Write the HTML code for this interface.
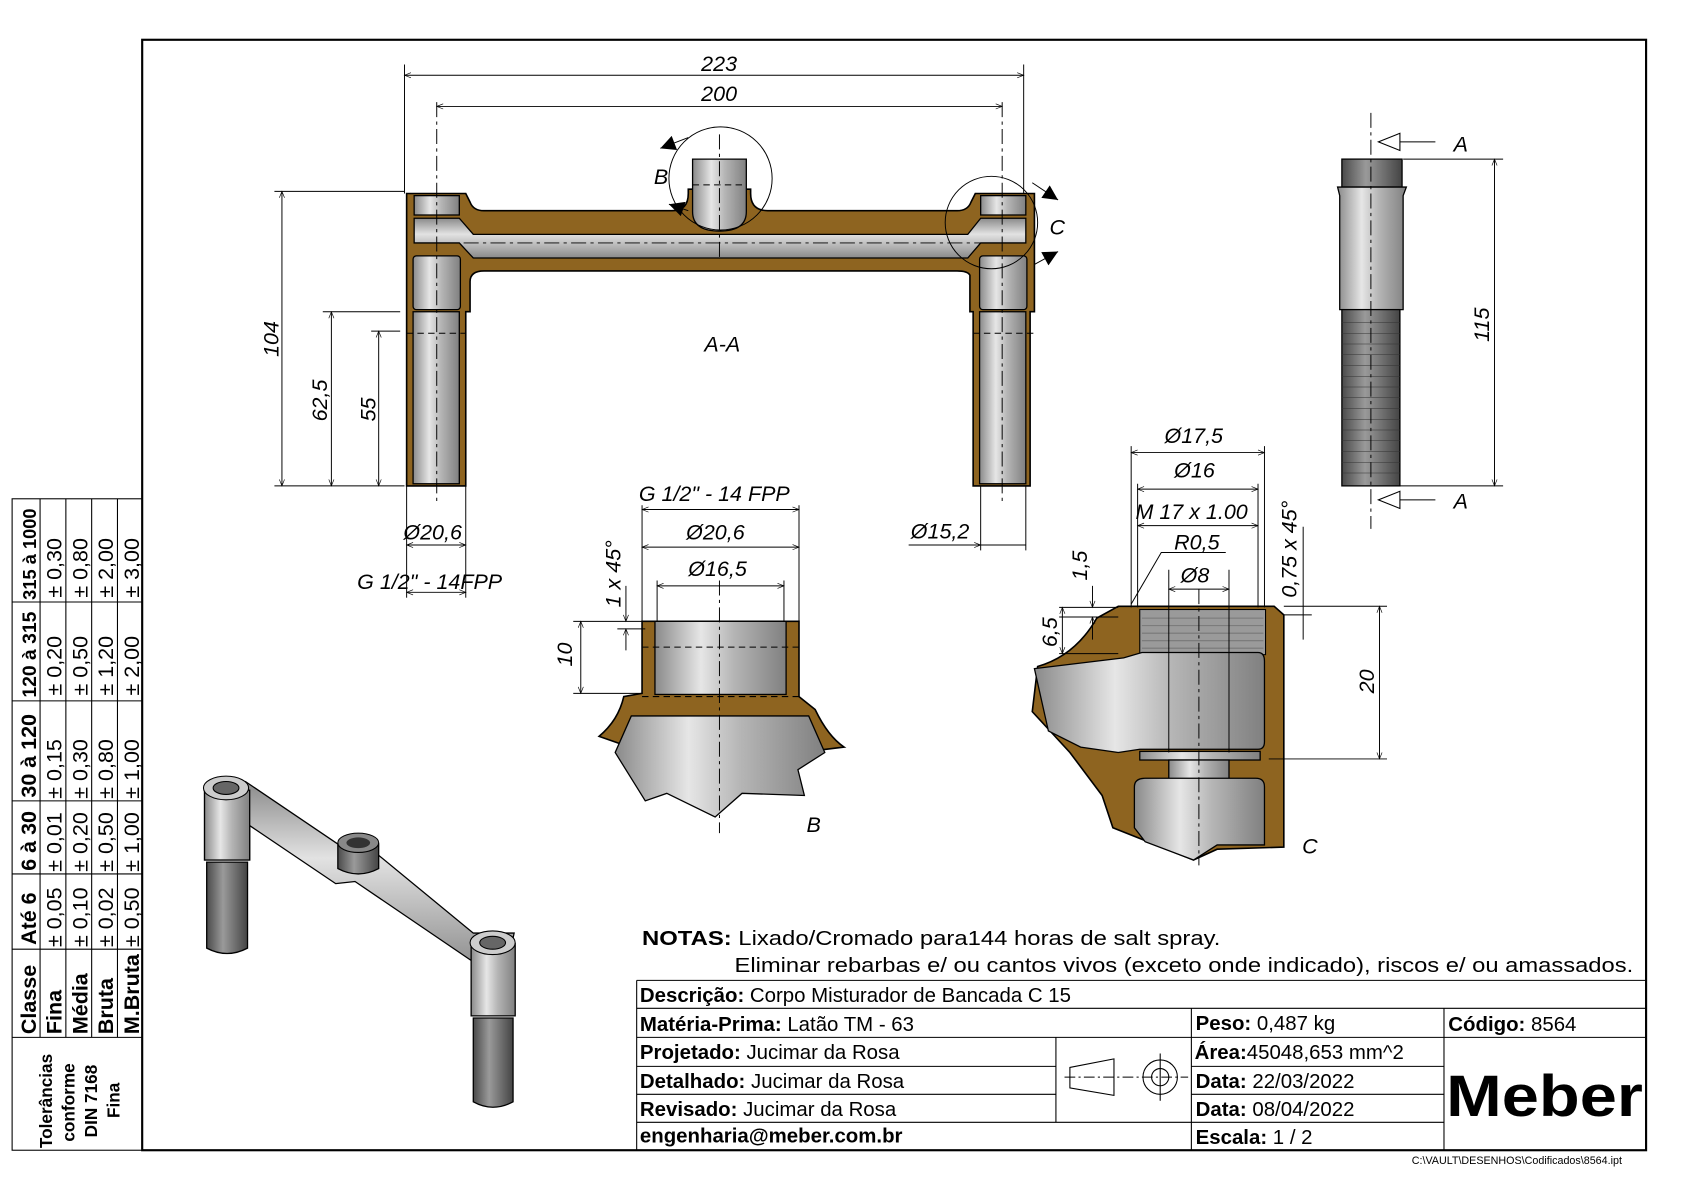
<!DOCTYPE html>
<html><head><meta charset="utf-8"><style>
html,body{margin:0;padding:0;background:#fff}
svg{display:block}
text{font-family:"Liberation Sans",sans-serif}
.d{stroke:#000;stroke-width:0.9;fill:none}
.c{stroke:#000;stroke-width:0.9;fill:none;stroke-dasharray:14 4 3 4}
.h{stroke:#000;stroke-width:1;fill:none;stroke-dasharray:6 4}
.br{fill:#8e6420;stroke:#000;stroke-width:1.5}
.gr{fill:url(#g);stroke:#000;stroke-width:1.2}
.gv{fill:url(#gv);stroke:#000;stroke-width:1.2}
.dk{fill:url(#gd);stroke:#000;stroke-width:1.2}
.i{font-style:italic;font-size:20px}
.t{font-size:19px}
.b{font-size:19px;font-weight:bold}
</style></head><body>
<svg width="1684" height="1190" viewBox="0 0 1566 1107" xmlns="http://www.w3.org/2000/svg">
<defs>
<linearGradient id="g" x1="0" x2="1" y1="0" y2="0"><stop offset="0" stop-color="#8a8a8a"/><stop offset="0.35" stop-color="#e6e6e6"/><stop offset="0.6" stop-color="#b5b5b5"/><stop offset="1" stop-color="#808080"/></linearGradient>
<linearGradient id="gv" x1="0" x2="0" y1="0" y2="1"><stop offset="0" stop-color="#8a8a8a"/><stop offset="0.4" stop-color="#e2e2e2"/><stop offset="1" stop-color="#8a8a8a"/></linearGradient>
<linearGradient id="gd" x1="0" x2="1" y1="0" y2="0"><stop offset="0" stop-color="#4a4a4a"/><stop offset="0.4" stop-color="#9a9a9a"/><stop offset="1" stop-color="#444"/></linearGradient>
<marker id="a" viewBox="0 0 10 10" refX="10" refY="5" markerWidth="12" markerHeight="6" orient="auto-start-reverse" markerUnits="userSpaceOnUse"><path d="M0,1 L10,5 L0,9" fill="none" stroke="#000"/></marker>
<marker id="A" viewBox="0 0 10 10" refX="10" refY="5" markerWidth="18" markerHeight="14" orient="auto" markerUnits="userSpaceOnUse"><path d="M0,0 L10,5 L0,10z" fill="#000"/></marker>
</defs>

<rect x="132" y="37" width="1399" height="1033" fill="none" stroke="#000" stroke-width="2"/>

<!-- tolerance table -->
<g stroke="#000" stroke-width="1" fill="none">
<rect x="11" y="464" width="121" height="606"/>
<line x1="37" y1="464" x2="37" y2="965"/><line x1="61" y1="464" x2="61" y2="965"/><line x1="85" y1="464" x2="85" y2="965"/><line x1="109" y1="464" x2="109" y2="965"/>
<line x1="11" y1="560" x2="132" y2="560"/><line x1="11" y1="652" x2="132" y2="652"/><line x1="11" y1="745" x2="132" y2="745"/><line x1="11" y1="813" x2="132" y2="813"/><line x1="11" y1="883" x2="132" y2="883"/><line x1="11" y1="965" x2="132" y2="965"/>
</g>
<g font-size="20">
<text transform="translate(33,962) rotate(-90)" font-weight="bold">Classe</text>
<text transform="translate(33,879) rotate(-90)" font-weight="bold">Até 6</text>
<text transform="translate(33,810) rotate(-90)" font-weight="bold">6 à 30</text>
<text transform="translate(33,742) rotate(-90)" font-weight="bold">30 à 120</text>
<text transform="translate(33,649) rotate(-90)" font-weight="bold" font-size="18">120 à 315</text>
<text transform="translate(33,558) rotate(-90)" font-weight="bold" font-size="17">315 à 1000</text>
<text transform="translate(57,962) rotate(-90)" font-weight="bold">Fina</text>
<text transform="translate(81,962) rotate(-90)" font-weight="bold">Média</text>
<text transform="translate(105,962) rotate(-90)" font-weight="bold">Bruta</text>
<text transform="translate(129,962) rotate(-90)" font-weight="bold">M.Bruta</text>
<text transform="translate(57,881) rotate(-90)">± 0,05</text><text transform="translate(57,811) rotate(-90)">± 0,01</text><text transform="translate(57,743) rotate(-90)">± 0,15</text><text transform="translate(57,647) rotate(-90)">± 0,20</text><text transform="translate(57,556) rotate(-90)">± 0,30</text>
<text transform="translate(81,881) rotate(-90)">± 0,10</text><text transform="translate(81,811) rotate(-90)">± 0,20</text><text transform="translate(81,743) rotate(-90)">± 0,30</text><text transform="translate(81,647) rotate(-90)">± 0,50</text><text transform="translate(81,556) rotate(-90)">± 0,80</text>
<text transform="translate(105,881) rotate(-90)">± 0,02</text><text transform="translate(105,811) rotate(-90)">± 0,50</text><text transform="translate(105,743) rotate(-90)">± 0,80</text><text transform="translate(105,647) rotate(-90)">± 1,20</text><text transform="translate(105,556) rotate(-90)">± 2,00</text>
<text transform="translate(129,881) rotate(-90)">± 0,50</text><text transform="translate(129,811) rotate(-90)">± 1,00</text><text transform="translate(129,743) rotate(-90)">± 1,00</text><text transform="translate(129,647) rotate(-90)">± 2,00</text><text transform="translate(129,556) rotate(-90)">± 3,00</text>
<g font-weight="bold" font-size="16">
<text transform="translate(48,1068) rotate(-90)">Tolerâncias</text>
<text transform="translate(69,1062) rotate(-90)">conforme</text>
<text transform="translate(90,1058) rotate(-90)">DIN 7168</text>
<text transform="translate(111,1040) rotate(-90)">Fina</text>
</g>
</g>

<!-- title block -->
<g stroke="#000" stroke-width="1" fill="none">
<line x1="592" y1="912" x2="1531" y2="912"/>
<line x1="592" y1="938" x2="1531" y2="938"/>
<line x1="592" y1="965" x2="1531" y2="965"/>
<line x1="592" y1="992" x2="982" y2="992"/><line x1="1108" y1="992" x2="1343" y2="992"/>
<line x1="592" y1="1018" x2="982" y2="1018"/><line x1="1108" y1="1018" x2="1343" y2="1018"/>
<line x1="592" y1="1044" x2="1343" y2="1044"/>
<line x1="592" y1="912" x2="592" y2="1070"/>
<line x1="982" y1="965" x2="982" y2="1044"/>
<line x1="1108" y1="938" x2="1108" y2="1070"/>
<line x1="1343" y1="938" x2="1343" y2="1070"/>
<path d="M995,993 L1036,985 L1036,1019 L995,1012Z"/>
<line x1="990" y1="1002" x2="1105" y2="1002" stroke-dasharray="10 3 2 3"/>
<circle cx="1079" cy="1002" r="16"/><circle cx="1079" cy="1002" r="8"/>
<line x1="1079" y1="980" x2="1079" y2="1024"/>
</g>
<text x="597" y="879" class="t" textLength="538" lengthAdjust="spacingAndGlyphs"><tspan font-weight="bold">NOTAS:</tspan> Lixado/Cromado para144 horas de salt spray.</text>
<text x="683" y="904" class="t" textLength="836" lengthAdjust="spacingAndGlyphs">Eliminar rebarbas e/ ou cantos vivos (exceto onde indicado), riscos e/ ou amassados.</text>
<text x="595" y="932" class="t"><tspan font-weight="bold">Descrição:</tspan> Corpo Misturador de Bancada C 15</text>
<text x="595" y="959" class="t"><tspan font-weight="bold">Matéria-Prima:</tspan> Latão TM - 63</text>
<text x="1112" y="958" class="t"><tspan font-weight="bold">Peso:</tspan> 0,487 kg</text>
<text x="1347" y="959" class="t"><tspan font-weight="bold">Código:</tspan> 8564</text>
<text x="595" y="985" class="t"><tspan font-weight="bold">Projetado:</tspan> Jucimar da Rosa</text>
<text x="595" y="1012" class="t"><tspan font-weight="bold">Detalhado:</tspan> Jucimar da Rosa</text>
<text x="595" y="1038" class="t"><tspan font-weight="bold">Revisado:</tspan> Jucimar da Rosa</text>
<text x="595" y="1063" class="b">engenharia@meber.com.br</text>
<text x="1111" y="985" class="t"><tspan font-weight="bold">Área:</tspan>45048,653 mm^2</text>
<text x="1112" y="1012" class="t"><tspan font-weight="bold">Data:</tspan> 22/03/2022</text>
<text x="1112" y="1038" class="t"><tspan font-weight="bold">Data:</tspan> 08/04/2022</text>
<text x="1112" y="1064" class="t"><tspan font-weight="bold">Escala:</tspan> 1 / 2</text>
<text x="1345" y="1038" font-size="54" font-weight="bold" textLength="183" lengthAdjust="spacingAndGlyphs">Meber</text>
<text x="1313" y="1083" font-size="10">C:\VAULT\DESENHOS\Codificados\8564.ipt</text>

<!-- FRONT VIEW A-A -->
<path class="br" d="M378,180 L433,180 L437,188 Q440,196 450,196 L625,196 Q640,196 640,180 L640,176 L698,176 L698,180 Q698,196 714,196 L890,196 Q900,196 903,188 L907,180 L962,180 L962,290 L958,290 L958,452 L905,452 L905,290 L902,290 L902,256 Q900,252 890,252 L450,252 Q437,252 437,262 L437,290 L433,290 L433,452 L378,452 L378,290Z"/>
<rect class="gr" x="385" y="182" width="42" height="18" fill="#888"/>
<rect class="gr" x="912" y="182" width="42" height="18"/>
<path class="gv" d="M385,203 L427,203 L440,218 L900,218 L912,203 L954,203 L954,226 L912,226 L900,240 L440,240 L427,226 L385,226Z"/>
<rect class="gr" x="384" y="238" width="44" height="50" rx="3"/>
<rect class="gr" x="911" y="238" width="44" height="50" rx="3"/>
<rect class="gr" x="384" y="290" width="43" height="160"/>
<rect class="gr" x="911" y="290" width="43" height="160"/>
<path class="gr" d="M644,148 L694,148 L694,197 Q694,215 669,215 Q644,215 644,197Z"/>
<line class="h" x1="644" y1="172" x2="694" y2="172"/>
<line class="h" x1="378" y1="310" x2="433" y2="310"/><line class="h" x1="905" y1="310" x2="962" y2="310"/>
<line class="c" x1="406" y1="95" x2="406" y2="470"/>
<line class="c" x1="932" y1="95" x2="932" y2="470"/>
<line class="c" x1="669" y1="125" x2="669" y2="240"/>
<line class="c" x1="406" y1="226" x2="932" y2="226"/>
<circle cx="670" cy="166" r="48" class="d"/>
<circle cx="922" cy="207" r="43" class="d"/>
<line x1="640" y1="128" x2="614" y2="138" class="d" marker-end="url(#A)"/>
<line x1="640" y1="196" x2="622" y2="190" class="d" marker-end="url(#A)"/>
<line x1="960" y1="170" x2="984" y2="186" class="d" marker-end="url(#A)"/>
<line x1="962" y1="246" x2="984" y2="234" class="d" marker-end="url(#A)"/>
<text x="608" y="171" class="i">B</text>
<text x="976" y="218" class="i">C</text>
<text x="655" y="327" class="i">A-A</text>
<line class="d" x1="376" y1="60" x2="376" y2="180"/><line class="d" x1="952" y1="60" x2="952" y2="180"/>
<line class="d" x1="376" y1="70" x2="952" y2="70" marker-start="url(#a)" marker-end="url(#a)"/>
<text x="652" y="66" class="i">223</text>
<line class="d" x1="406" y1="99" x2="932" y2="99" marker-start="url(#a)" marker-end="url(#a)"/>
<text x="652" y="94" class="i">200</text>
<line class="d" x1="255" y1="178" x2="376" y2="178"/><line class="d" x1="255" y1="452" x2="376" y2="452"/>
<line class="d" x1="262" y1="178" x2="262" y2="452" marker-start="url(#a)" marker-end="url(#a)"/>
<text transform="translate(259,332) rotate(-90)" class="i">104</text>
<line class="d" x1="300" y1="290" x2="372" y2="290"/>
<line class="d" x1="308" y1="290" x2="308" y2="452" marker-start="url(#a)" marker-end="url(#a)"/>
<text transform="translate(304,392) rotate(-90)" class="i">62,5</text>
<line class="d" x1="345" y1="308" x2="372" y2="308"/>
<line class="d" x1="352" y1="308" x2="352" y2="452" marker-start="url(#a)" marker-end="url(#a)"/>
<text transform="translate(349,392) rotate(-90)" class="i">55</text>
<line class="d" x1="378" y1="452" x2="378" y2="556"/><line class="d" x1="433" y1="452" x2="433" y2="556"/>
<line class="d" x1="378" y1="507" x2="433" y2="507" marker-start="url(#a)" marker-end="url(#a)"/>
<text x="375" y="502" class="i">Ø20,6</text>
<line class="d" x1="378" y1="551" x2="433" y2="551" marker-start="url(#a)" marker-end="url(#a)"/>
<text x="332" y="548" class="i">G 1/2" - 14FPP</text>
<line class="d" x1="912" y1="452" x2="912" y2="512"/><line class="d" x1="954" y1="452" x2="954" y2="512"/>
<line class="d" x1="845" y1="507" x2="954" y2="507"/>
<line class="d" x1="890" y1="507" x2="912" y2="507" marker-end="url(#a)"/>
<text x="847" y="501" class="i">Ø15,2</text>

<!-- SIDE VIEW -->
<rect class="dk" x="1248" y="148" width="56" height="26"/>
<path class="gr" d="M1244,174 L1308,174 L1305,182 L1305,288 L1246,288 L1246,182Z"/>
<rect class="dk" x="1248" y="288" width="54" height="164"/>
<g stroke="#333" stroke-width="0.5">
<line x1="1248" y1="300" x2="1302" y2="300"/><line x1="1248" y1="310" x2="1302" y2="310"/><line x1="1248" y1="320" x2="1302" y2="320"/><line x1="1248" y1="330" x2="1302" y2="330"/><line x1="1248" y1="340" x2="1302" y2="340"/><line x1="1248" y1="350" x2="1302" y2="350"/><line x1="1248" y1="360" x2="1302" y2="360"/><line x1="1248" y1="370" x2="1302" y2="370"/><line x1="1248" y1="380" x2="1302" y2="380"/><line x1="1248" y1="390" x2="1302" y2="390"/><line x1="1248" y1="400" x2="1302" y2="400"/><line x1="1248" y1="410" x2="1302" y2="410"/><line x1="1248" y1="420" x2="1302" y2="420"/><line x1="1248" y1="430" x2="1302" y2="430"/><line x1="1248" y1="440" x2="1302" y2="440"/>
</g>
<line class="c" x1="1275" y1="105" x2="1275" y2="492" stroke-width="1.3"/>
<path d="M1282,132 L1302,124 L1302,140Z" fill="#fff" stroke="#000"/>
<line x1="1302" y1="132" x2="1335" y2="132" class="d"/>
<line x1="1302" y1="465" x2="1335" y2="465" class="d"/><path d="M1282,465 L1302,457 L1302,473Z" fill="#fff" stroke="#000"/>
<text x="1352" y="141" class="i">A</text><text x="1352" y="473" class="i">A</text>
<line class="d" x1="1305" y1="148" x2="1398" y2="148"/><line class="d" x1="1302" y1="452" x2="1398" y2="452"/>
<line class="d" x1="1390" y1="148" x2="1390" y2="452" marker-start="url(#a)" marker-end="url(#a)"/>
<text transform="translate(1385,318) rotate(-90)" class="i">115</text>

<!-- DETAIL B -->
<path class="br" d="M597,578 L743,578 L743,648 L758,660 Q770,685 785,695 L744,700 L740,670 L600,670 L600,700 L557,685 Q575,670 580,648 L597,645Z"/>
<rect class="gr" x="609" y="578" width="122" height="68"/>
<path class="gr" d="M587,666 L752,666 L767,700 L742,716 L748,740 L690,738 L665,760 L620,738 L600,745 L572,700Z"/>
<line class="h" x1="597" y1="602" x2="743" y2="602"/>
<line class="h" x1="597" y1="648" x2="743" y2="648"/>
<line class="c" x1="669" y1="540" x2="669" y2="775"/>
<text x="750" y="774" class="i">B</text>
<line class="d" x1="597" y1="470" x2="597" y2="578"/><line class="d" x1="743" y1="470" x2="743" y2="578"/>
<line class="d" x1="597" y1="474" x2="743" y2="474" marker-start="url(#a)" marker-end="url(#a)"/>
<text x="594" y="466" class="i">G 1/2" - 14 FPP</text>
<line class="d" x1="597" y1="509" x2="743" y2="509" marker-start="url(#a)" marker-end="url(#a)"/>
<text x="638" y="502" class="i">Ø20,6</text>
<line class="d" x1="611" y1="545" x2="729" y2="545" marker-start="url(#a)" marker-end="url(#a)"/>
<line class="d" x1="611" y1="540" x2="611" y2="578"/><line class="d" x1="729" y1="540" x2="729" y2="578"/>
<text x="640" y="536" class="i">Ø16,5</text>
<line class="d" x1="533" y1="578" x2="597" y2="578"/><line class="d" x1="533" y1="645" x2="597" y2="645"/>
<line class="d" x1="540" y1="578" x2="540" y2="645" marker-start="url(#a)" marker-end="url(#a)"/>
<text transform="translate(532,620) rotate(-90)" class="i">10</text>
<line class="d" x1="574" y1="585" x2="600" y2="585"/>
<line class="d" x1="582" y1="545" x2="582" y2="578" marker-end="url(#a)"/>
<line class="d" x1="582" y1="605" x2="582" y2="585" marker-end="url(#a)"/>
<text transform="translate(577,565) rotate(-90)" class="i">1 x 45°</text>

<!-- DETAIL C -->
<path class="br" d="M1040,564 L1185,564 L1194,572 L1194,788 L1132,790 L1110,800 L1035,770 L1025,740 L995,700 L960,662 L965,620 Q1000,610 1020,575 Z"/>
<rect x="1060" y="567" width="117" height="42" fill="#9a9a9a" stroke="#000"/>
<g stroke="#777" stroke-width="1"><line x1="1062" y1="575" x2="1175" y2="575"/><line x1="1062" y1="582" x2="1175" y2="582"/><line x1="1062" y1="589" x2="1175" y2="589"/><line x1="1062" y1="596" x2="1175" y2="596"/><line x1="1062" y1="603" x2="1175" y2="603"/></g>
<path class="gr" d="M962,622 L1045,612 L1062,607 L1170,607 Q1176,607 1176,615 L1176,690 Q1176,697 1170,697 L1060,697 L1040,700 L1005,695 L975,680Z"/>
<rect class="gr" x="1060" y="699" width="112" height="8"/>
<rect class="gr" x="1087" y="707" width="56" height="18"/>
<path class="gr" d="M1055,732 Q1055,724 1065,724 L1168,724 Q1176,724 1176,732 L1176,786 L1132,786 L1110,800 L1065,783 L1055,770Z"/>
<line class="c" x1="1115" y1="548" x2="1115" y2="805"/>
<line class="d" x1="1087" y1="530" x2="1087" y2="700"/><line class="d" x1="1143" y1="530" x2="1143" y2="700"/>
<text x="1211" y="794" class="i">C</text>
<line class="d" x1="1052" y1="415" x2="1052" y2="565"/><line class="d" x1="1176" y1="415" x2="1176" y2="565"/>
<line class="d" x1="1052" y1="421" x2="1176" y2="421" marker-start="url(#a)" marker-end="url(#a)"/>
<text x="1083" y="412" class="i">Ø17,5</text>
<line class="d" x1="1058" y1="455" x2="1170" y2="455" marker-start="url(#a)" marker-end="url(#a)"/>
<text x="1092" y="444" class="i">Ø16</text>
<line class="d" x1="1058" y1="489" x2="1170" y2="489" marker-start="url(#a)" marker-end="url(#a)"/>
<line class="d" x1="1058" y1="450" x2="1058" y2="565"/><line class="d" x1="1170" y1="450" x2="1170" y2="565"/>
<text x="1056" y="483" class="i">M 17 x 1.00</text>
<path class="d" d="M1140,514 L1080,514 L1052,562"/>
<text x="1092" y="511" class="i">R0,5</text>
<line class="d" x1="1087" y1="548" x2="1143" y2="548" marker-start="url(#a)" marker-end="url(#a)"/>
<text x="1098" y="542" class="i">Ø8</text>
<line class="d" x1="985" y1="565" x2="1040" y2="565"/>
<line class="d" x1="985" y1="574" x2="1040" y2="574"/>
<line class="d" x1="1016" y1="545" x2="1016" y2="565" marker-end="url(#a)"/>
<line class="d" x1="1016" y1="595" x2="1016" y2="574" marker-end="url(#a)"/>
<text transform="translate(1011,540) rotate(-90)" class="i">1,5</text>
<line class="d" x1="988" y1="565" x2="988" y2="608" marker-start="url(#a)" marker-end="url(#a)"/>
<line class="d" x1="985" y1="608" x2="1040" y2="608"/>
<text transform="translate(983,602) rotate(-90)" class="i">6,5</text>
<line class="d" x1="1194" y1="564" x2="1290" y2="564"/><line class="d" x1="1194" y1="572" x2="1220" y2="572"/>
<line class="d" x1="1180" y1="706" x2="1290" y2="706"/>
<line class="d" x1="1283" y1="564" x2="1283" y2="706" marker-start="url(#a)" marker-end="url(#a)"/>
<text transform="translate(1278,645) rotate(-90)" class="i">20</text>
<line class="d" x1="1212" y1="490" x2="1212" y2="595"/>
<text transform="translate(1206,556) rotate(-90)" class="i">0,75 x 45°</text>

<!-- ISO VIEW -->
<path class="gv" d="M190,735 L228,727 L330,796 L350,794 L440,868 L478,868 L470,905 L455,905 L330,820 L312,822 L232,768 L232,800 L190,800Z"/>
<path class="gr" d="M190,735 L232,735 L232,800 L190,800Z"/>
<ellipse cx="210" cy="733" rx="21" ry="11" fill="#ccc" stroke="#000"/>
<ellipse cx="210" cy="733" rx="12" ry="6" fill="#666" stroke="#000"/>
<path class="dk" d="M192,802 L230,802 L230,882 Q211,892 192,882Z"/>
<path class="dk" d="M314,785 L352,785 L352,808 Q333,818 314,808Z"/>
<ellipse cx="333" cy="784" rx="19" ry="9" fill="#888" stroke="#000"/>
<ellipse cx="333" cy="784" rx="11" ry="5" fill="#333"/>
<path class="gr" d="M438,878 L479,878 L479,945 L438,945Z"/>
<ellipse cx="458" cy="877" rx="21" ry="11" fill="#ccc" stroke="#000"/>
<ellipse cx="458" cy="877" rx="12" ry="6" fill="#666" stroke="#000"/>
<path class="dk" d="M440,947 L477,947 L477,1025 Q458,1035 440,1025Z"/>
</svg>
</body></html>
